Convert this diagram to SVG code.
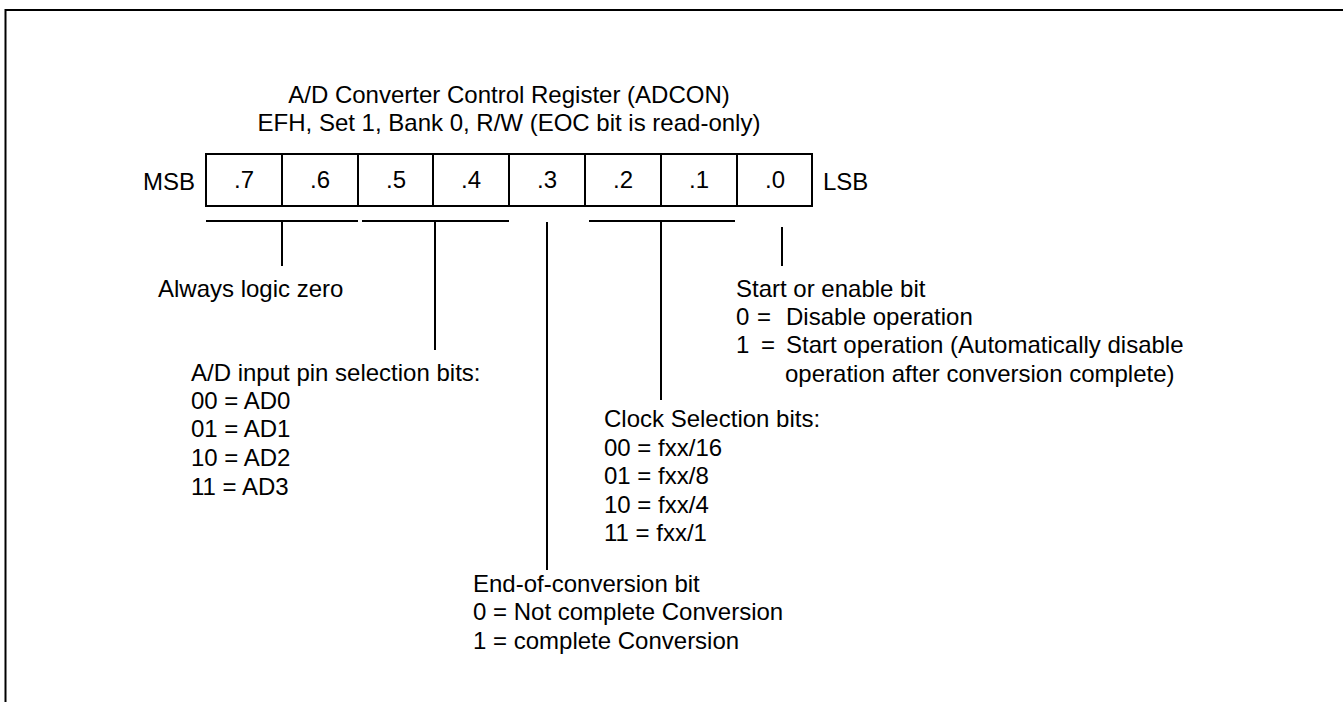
<svg xmlns="http://www.w3.org/2000/svg" width="1343" height="702" viewBox="0 0 1343 702">
<style>
text{font-family:"Liberation Sans",Arial,sans-serif;font-size:24px;fill:#000}
.c{text-anchor:middle}
.ln{stroke:#000;stroke-width:2;fill:none}
</style>
<rect width="1343" height="702" fill="#fff"/>
<g id="frame"><path class="ln" d="M5.5,702 V10 H1343" stroke-width="2.2"/></g>
<g id="title">
<text class="c" x="509" y="103">A/D Converter Control Register (ADCON)</text>
<text class="c" x="509" y="131">EFH, Set 1, Bank 0, R/W (EOC bit is read-only)</text>
</g>
<g id="register">
<text x="195" y="190" text-anchor="end">MSB</text>
<rect class="ln" x="206" y="154" width="606" height="52"/>
<path class="ln" d="M282,154V206M358,154V206M433,154V206M509,154V206M585,154V206M661,154V206M737,154V206"/>
<text class="c" x="244" y="188">.7</text>
<text class="c" x="320" y="188">.6</text>
<text class="c" x="396" y="188">.5</text>
<text class="c" x="471" y="188">.4</text>
<text class="c" x="547" y="188">.3</text>
<text class="c" x="623" y="188">.2</text>
<text class="c" x="699" y="188">.1</text>
<text class="c" x="775" y="188">.0</text>
<text x="823" y="190">LSB</text>
</g>
<g id="connectors">
<path class="ln" d="M206,221H358M282,221V266"/>
<path class="ln" d="M362,221H509M435,221V350"/>
<path class="ln" d="M547,222V570"/>
<path class="ln" d="M589,221H735M661,221V400"/>
<path class="ln" d="M782,227V266"/>
</g>
<g id="bits76"><text x="158" y="297">Always logic zero</text></g>
<g id="bits54">
<text x="191" y="381">A/D input pin selection bits:</text>
<text x="191" y="409">00 = AD0</text>
<text x="191" y="437">01 = AD1</text>
<text x="191" y="466">10 = AD2</text>
<text x="191" y="495">11 = AD3</text>
</g>
<g id="bit3">
<text x="473" y="592">End-of-conversion bit</text>
<text x="473" y="620">0 = Not complete Conversion</text>
<text x="473" y="649">1 = complete Conversion</text>
</g>
<g id="bits21">
<text x="604" y="427">Clock Selection bits:</text>
<text x="604" y="456">00 = fxx/16</text>
<text x="604" y="484">01 = fxx/8</text>
<text x="604" y="513">10 = fxx/4</text>
<text x="604" y="541">11 = fxx/1</text>
</g>
<g id="bit0">
<text x="736" y="297">Start or enable bit</text>
<text x="736" y="325">0</text><text x="757" y="325">=</text><text x="786" y="325">Disable operation</text>
<text x="736" y="353">1</text><text x="761" y="353">=</text><text x="786" y="353">Start operation (Automatically disable</text>
<text x="785" y="382">operation after conversion complete)</text>
</g>
</svg>
